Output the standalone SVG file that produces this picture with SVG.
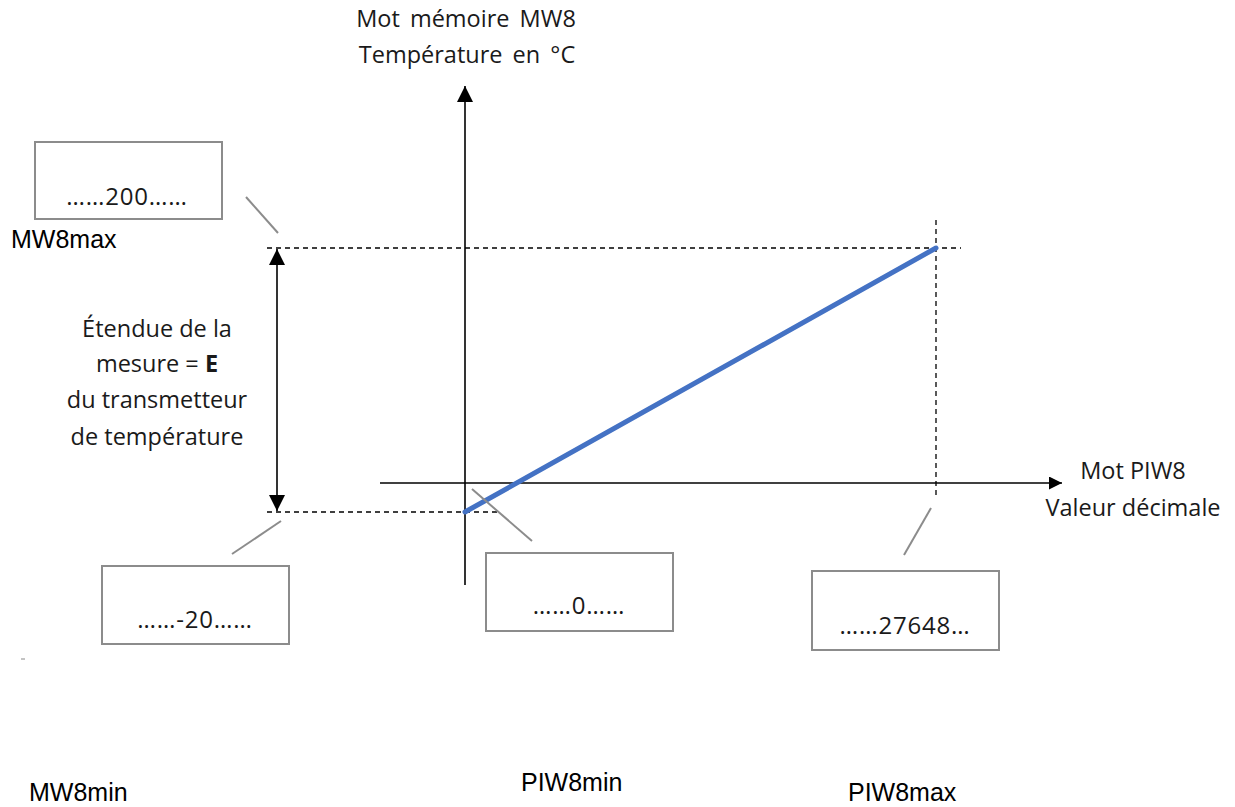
<svg xmlns="http://www.w3.org/2000/svg" width="1235" height="807" viewBox="0 0 1235 807">
<defs>
<style>
.t{font-family:"Open Sans","Noto Sans",sans-serif;font-size:23.5px;fill:#1a1a1a}
.w{word-spacing:4px}
.bt{font-family:"Open Sans","Noto Sans",sans-serif;font-size:24px;letter-spacing:0.8px;fill:#1a1a1a}
.a{font-family:"Liberation Sans",Arial,sans-serif;font-size:25px;fill:#000}
.box{fill:#fff;stroke:#8c8c8c;stroke-width:2}
.lead{stroke:#8c8c8c;stroke-width:2}
.dash{stroke:#000;stroke-width:1.3;stroke-dasharray:5 4;fill:none}
.ax{stroke:#000;stroke-width:1.6;fill:none}
</style>
<marker id="ah" viewBox="0 0 10 10" refX="10" refY="5" markerWidth="16" markerHeight="16" markerUnits="userSpaceOnUse" orient="auto-start-reverse">
<path d="M0,0 L10,5 L0,10 z" fill="#000"/>
</marker>
<marker id="ah2" viewBox="0 0 10 10" refX="10" refY="5" markerWidth="15" markerHeight="13" markerUnits="userSpaceOnUse" orient="auto">
<path d="M0,0 L10,5 L0,10 z" fill="#000"/>
</marker>
</defs>
<rect width="1235" height="807" fill="#fff"/>
<g id="connectors">
<line class="dash" x1="267" y1="248" x2="961" y2="248"/>
<line class="dash" x1="267" y1="512" x2="497" y2="512"/>
<line class="dash" x1="936" y1="220" x2="936" y2="497"/>
<line class="ax" x1="465" y1="585" x2="465" y2="86" marker-end="url(#ah)"/>
<line class="ax" x1="380" y1="483" x2="1062" y2="483" marker-end="url(#ah2)"/>
<line class="ax" x1="277" y1="249" x2="277" y2="511" marker-start="url(#ah)" marker-end="url(#ah)"/>
<line x1="465" y1="512" x2="936" y2="248" stroke="#4472C4" stroke-width="5" stroke-linecap="round"/>
<line class="lead" x1="246" y1="197" x2="278" y2="233"/>
<line class="lead" x1="232" y1="554" x2="281" y2="521"/>
<line class="lead" x1="472" y1="489" x2="532" y2="541"/>
<line class="lead" x1="931" y1="508" x2="904" y2="555"/>
<line x1="21" y1="659" x2="25" y2="659" stroke="#888" stroke-width="1"/>
</g>
<g id="y-axis-label">
<text class="t w" x="466" y="27" text-anchor="middle">Mot mémoire MW8</text>
<text class="t w" x="467" y="63" text-anchor="middle">Température en °C</text>
</g>
<g id="x-axis-label">
<text class="t" x="1133" y="479" text-anchor="middle">Mot PIW8</text>
<text class="t" x="1133" y="516" text-anchor="middle">Valeur décimale</text>
</g>
<g id="etendue">
<text class="t" x="157" y="337" text-anchor="middle">Étendue de la</text>
<text class="t" x="157" y="372" text-anchor="middle">mesure = <tspan font-weight="bold">E</tspan></text>
<text class="t" x="157" y="408" text-anchor="middle">du transmetteur</text>
<text class="t" x="157" y="445" text-anchor="middle">de température</text>
</g>
<g id="box-200">
<rect class="box" x="35" y="142" width="187" height="77"/>
<text class="bt" x="127" y="205" text-anchor="middle">……200……</text>
</g>
<g id="box-m20">
<rect class="box" x="102" y="566" width="187" height="78"/>
<text class="bt" x="195" y="628" text-anchor="middle">……-20……</text>
</g>
<g id="box-0">
<rect class="box" x="486" y="553" width="187" height="78"/>
<text class="bt" x="579" y="614" text-anchor="middle">……0……</text>
</g>
<g id="box-27648">
<rect class="box" x="812" y="571" width="187" height="79"/>
<text class="bt" x="905" y="634" text-anchor="middle">……27648…</text>
</g>
<g id="labels">
<text class="a" x="11" y="248">MW8max</text>
<text class="a" x="29" y="801">MW8min</text>
<text class="a" x="521" y="791">PIW8min</text>
<text class="a" x="848" y="801">PIW8max</text>
</g>
</svg>
